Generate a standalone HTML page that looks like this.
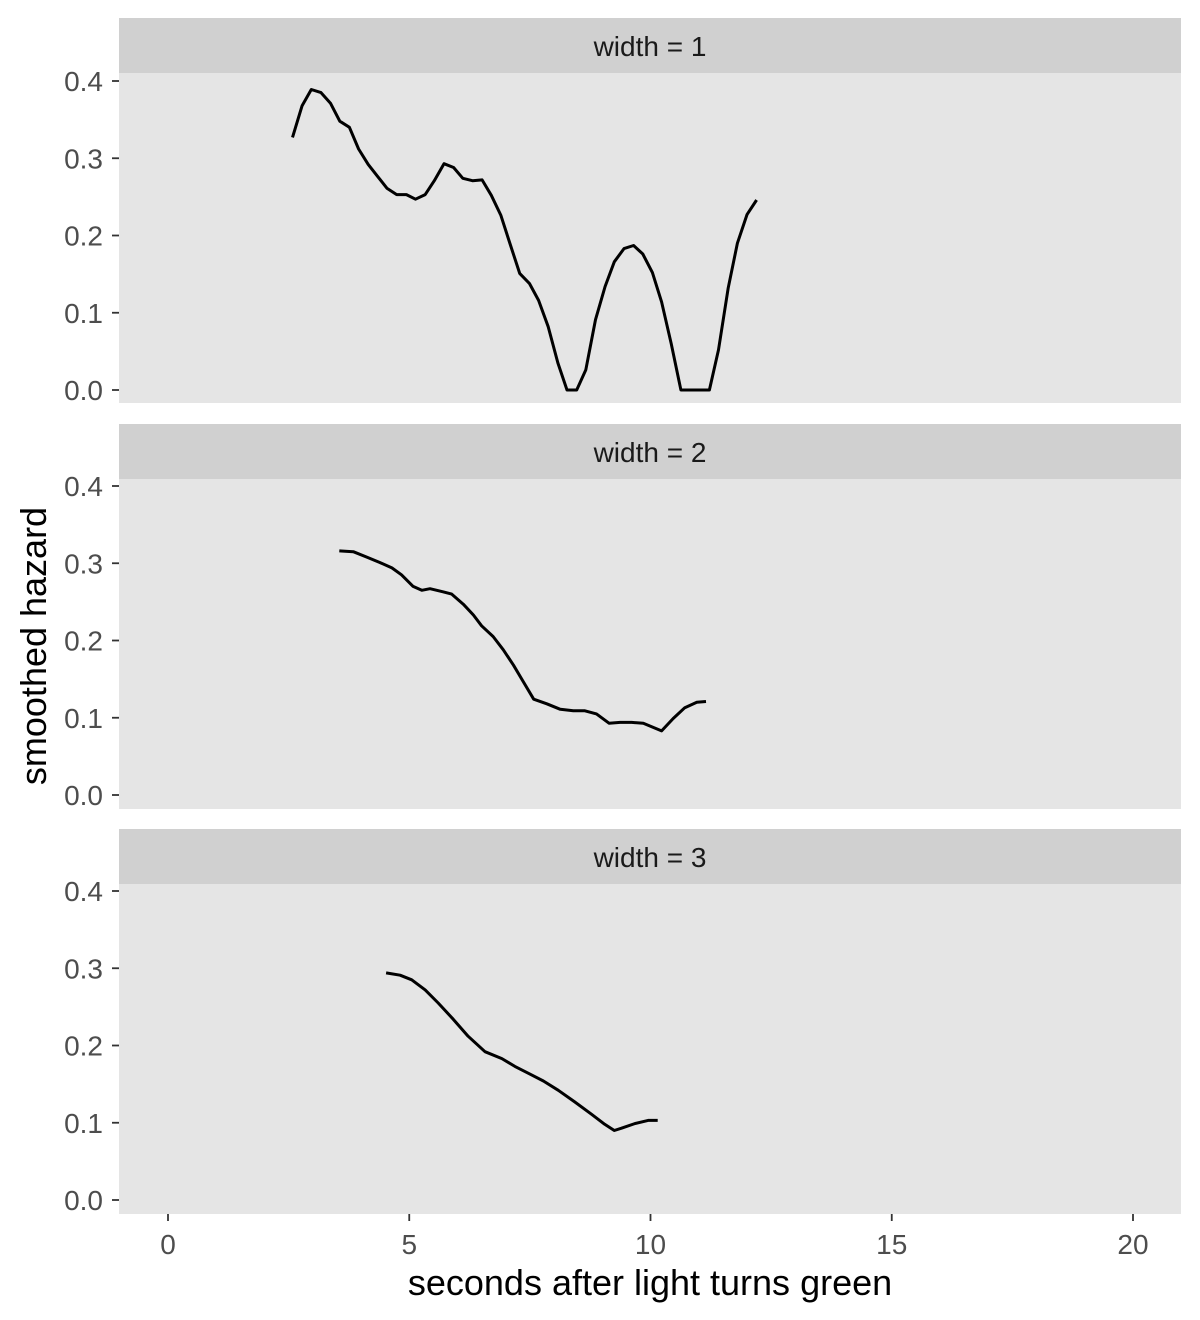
<!DOCTYPE html>
<html><head><meta charset="utf-8"><style>body{margin:0;background:#fff}svg{display:block}</style></head>
<body>
<svg id="chart" width="1200" height="1320" xmlns="http://www.w3.org/2000/svg" font-family="Liberation Sans, sans-serif"></svg>
<script>
const xTicks = [0, 5, 10, 15, 20];
const yTicks = [0.0, 0.1, 0.2, 0.3, 0.4];
const panelLabels = ["width = 1", "width = 2", "width = 3"];
const t1 = [2.58,2.78,2.97,3.17,3.37,3.56,3.76,3.95,4.15,4.35,4.54,4.74,4.94,5.13,5.33,5.52,5.72,5.92,6.11,6.31,6.51,6.70,6.90,7.09,7.29,7.49,7.68,7.88,8.08,8.27,8.47,8.66,8.86,9.06,9.25,9.45,9.65,9.84,10.04,10.23,10.43,10.63,10.82,11.02,11.22,11.41,11.61,11.80,12.00,12.20];
const v1 = [.327,.368,.389,.385,.371,.348,.340,.312,.292,.276,.261,.253,.253,.247,.253,.271,.293,.288,.274,.271,.272,.252,.226,.189,.151,.138,.116,.082,.035,0,0,.026,.091,.134,.166,.183,.187,.176,.152,.114,.060,0,0,0,0,.052,.132,.190,.227,.246];
const t2 = [3.55,3.84,4.12,4.39,4.64,4.84,5.08,5.26,5.43,5.70,5.88,6.12,6.33,6.50,6.74,6.95,7.16,7.36,7.58,7.85,8.13,8.40,8.64,8.88,9.14,9.37,9.61,9.85,10.23,10.47,10.71,10.96,11.15];
const v2 = [.316,.315,.308,.301,.294,.285,.270,.265,.267,.263,.260,.247,.233,.219,.205,.188,.168,.147,.124,.118,.111,.109,.109,.105,.093,.094,.094,.093,.083,.099,.113,.120,.121];
const t3 = [4.52,4.81,5.05,5.33,5.60,5.91,6.22,6.57,6.92,7.19,7.50,7.78,8.09,8.43,8.78,9.05,9.25,9.40,9.68,9.95,10.15];
const v3 = [.294,.291,.285,.272,.255,.234,.212,.192,.183,.173,.163,.154,.142,.127,.111,.098,.090,.093,.099,.103,.103];

const NS = "http://www.w3.org/2000/svg";
const svg = document.getElementById("chart");
function mk(tag, attrs, parent) {
  const e = document.createElementNS(NS, tag);
  for (const k in attrs) e.setAttribute(k, attrs[k]);
  (parent || svg).appendChild(e);
  return e;
}
const X0 = 119, X1 = 1181;
const xScale = v => 168 + v * 48.25;
const panels = [{top:18, zero:390, t:t1, v:v1}, {top:424, zero:795, t:t2, v:v2}, {top:829, zero:1200, t:t3, v:v3}];
panels.forEach((p, i) => {
  const g = mk("g", {});
  
  
  const yScale = val => p.zero - val * 772.5;
  const strip = mk("rect", {x:X0, y:p.top, width:X1 - X0, height:55, fill:"#d0d0d0"}, g);
  
  
  const st = mk("text", {x:(X0 + X1) / 2, y:p.top + 38, "text-anchor":"middle", "font-size":"28", fill:"#1a1a1a"}, g);
  st.textContent = panelLabels[i];
  
  
  const bg = mk("rect", {x:X0, y:p.top + 55, width:X1 - X0, height:330, fill:"#e5e5e5"}, g);
  
  
  yTicks.forEach(tv => {
    const y = yScale(tv);
    const tk = mk("line", {x1:112, x2:119, y1:y, y2:y, stroke:"#333", "stroke-width":1.8}, g);
    
    
    const tl = mk("text", {x:103, y:y + 10, "text-anchor":"end", "font-size":"28", fill:"#4d4d4d"}, g);
    tl.textContent = tv.toFixed(1);
    
    
  });
  const d = p.t.map((tt, k) => (k ? "L" : "M") + xScale(tt).toFixed(1) + "," + yScale(p.v[k]).toFixed(1)).join("");
  const ln = mk("path", {d:d, fill:"none", stroke:"#000", "stroke-width":3, "stroke-linejoin":"round"}, g);
  
  
});
xTicks.forEach(tv => {
  const x = xScale(tv);
  const tk = mk("line", {x1:x, x2:x, y1:1214, y2:1221, stroke:"#333", "stroke-width":1.8});
  
  
  const tl = mk("text", {x:x, y:1254, "text-anchor":"middle", "font-size":"28", fill:"#4d4d4d"});
  tl.textContent = tv;
  
  
});
const xt = mk("text", {x:650, y:1295, "text-anchor":"middle", "font-size":"36", fill:"#000"});
xt.textContent = "seconds after light turns green";


const yt = mk("text", {x:0, y:0, "text-anchor":"middle", "font-size":"36", fill:"#000", transform:"translate(46,646) rotate(-90)"});
yt.textContent = "smoothed hazard";


</script>
</body></html>
